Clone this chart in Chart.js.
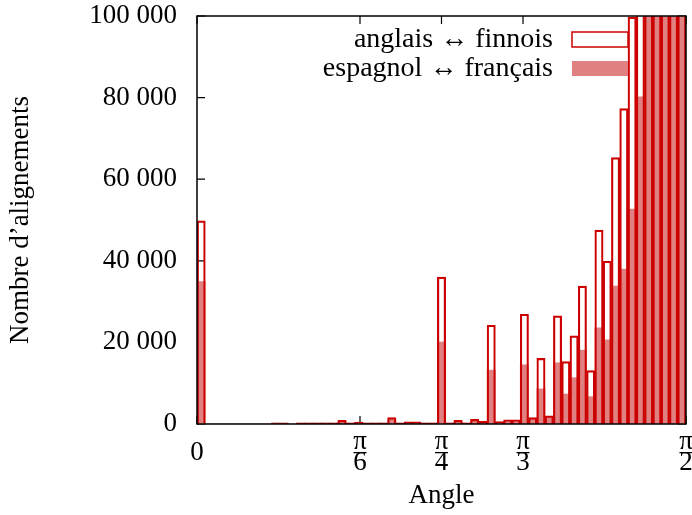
<!DOCTYPE html>
<html>
<head>
<meta charset="utf-8">
<script src="https://cdn.jsdelivr.net/npm/chart.js@4.4.1/dist/chart.umd.min.js"></script>
<style>
  html, body { margin: 0; padding: 0; background: #fff; }
</style>
</head>
<body>
<canvas id="chart" width="692" height="515"></canvas>
<script>
// histogram counts, one value per angle bin (0 .. pi/2)
var anglaisFinnois = [
  49800, 0, 0, 0, 0, 0, 0, 0, 0, 100,
  100, 0, 300, 300, 300, 300, 300, 900, 300, 500,
  300, 300, 300, 1550, 300, 550, 550, 300, 300, 36000,
  300, 900, 300, 1150, 650, 24200, 600, 1050, 1050, 26900,
  1550, 16100, 2000, 26500, 15300, 21600, 33800, 13100, 47500, 39900,
  65300, 77300, 99700, 125000, 150000, 170000, 190000, 210000, 230000
];
var espagnolFrancais = [
  34900, 0, 0, 0, 0, 0, 0, 0, 0, 300,
  300, 0, 200, 200, 200, 200, 200, 700, 200, 300,
  200, 200, 200, 1200, 200, 400, 400, 200, 200, 20100,
  200, 600, 200, 900, 500, 13200, 400, 800, 800, 14500,
  1300, 8600, 1600, 15000, 7350, 11350, 18100, 6700, 23600, 20600,
  33800, 38000, 52700, 80200, 110000, 125000, 140000, 155000, 170000
];
var seriesLabels = ['anglais \u2194 finnois', 'espagnol \u2194 fran\u00e7ais'];

var xTickValues = [0, Math.PI / 6, Math.PI / 4, Math.PI / 3, Math.PI / 2];
var xTickLabels = ['0', ['\u03c0', '6'], ['\u03c0', '4'], ['\u03c0', '3'], ['\u03c0', '2']];
var yTickValues = [0, 20000, 40000, 60000, 80000, 100000];

var binWidth = Math.PI / 2 / anglaisFinnois.length;
var binCenters = anglaisFinnois.map(function (v, i) { return (i + 0.5) * binWidth; });

var RED = '#cc0000';
var PINK = '#e08080';
var FONT = 'Liberation Serif';
var FONT_SIZE = 27;
var X_LINE = 0.78;
var X_PAD = 18;

function points(values) {
  return values.map(function (v, i) { return {x: binCenters[i], y: v}; });
}

function spaced(v) {
  return String(v).replace(/\B(?=(\d{3})+(?!\d))/g, ' ');
}

var framePlugin = {
  id: 'frame',
  beforeDatasetsDraw: function (chart) {
    var a = chart.chartArea, ctx = chart.ctx;
    var xs = chart.scales.x, ys = chart.scales.y;
    ctx.save();
    ctx.strokeStyle = '#000';
    ctx.lineWidth = 1.2;
    ctx.beginPath();
    xTickValues.forEach(function (v) {
      var px = xs.getPixelForValue(v);
      ctx.moveTo(px, a.bottom); ctx.lineTo(px, a.bottom - 8);
      ctx.moveTo(px, a.top); ctx.lineTo(px, a.top + 8);
    });
    yTickValues.forEach(function (v) {
      var py = ys.getPixelForValue(v);
      ctx.moveTo(a.left, py); ctx.lineTo(a.left + 8, py);
      ctx.moveTo(a.right, py); ctx.lineTo(a.right - 8, py);
    });
    ctx.stroke();
    ctx.restore();
  },
  afterDatasetsDraw: function (chart) {
    var a = chart.chartArea, ctx = chart.ctx;
    ctx.save();
    ctx.strokeStyle = '#000';
    ctx.lineWidth = 1.5;
    ctx.strokeRect(a.left, a.top, a.right - a.left, a.bottom - a.top);

    // legend, text on the left of the sample
    ctx.font = '28px "' + FONT + '"';
    ctx.fillStyle = '#000';
    ctx.textAlign = 'right';
    ctx.textBaseline = 'middle';
    var rows = [39.5, 68.5];
    ctx.fillText(seriesLabels[0], 553, rows[0]);
    ctx.fillText(seriesLabels[1], 553, rows[1]);
    ctx.fillStyle = '#fff';
    ctx.fillRect(572, rows[0] - 7.5, 56, 15);
    ctx.strokeStyle = RED;
    ctx.lineWidth = 1.5;
    ctx.strokeRect(572, rows[0] - 7.5, 56, 15);
    ctx.fillStyle = PINK;
    ctx.fillRect(572, rows[1] - 7.5, 56, 15);
    ctx.restore();
  },
  afterDraw: function (chart) {
    // fraction bars of the x tick labels
    var ctx = chart.ctx, xs = chart.scales.x;
    var mid = xs.top + X_PAD + FONT_SIZE * X_LINE / 2;
    ctx.save();
    ctx.strokeStyle = '#000';
    ctx.lineWidth = 1.3;
    ctx.beginPath();
    xTickLabels.forEach(function (lab, i) {
      if (!Array.isArray(lab)) return;
      var px = xs.getPixelForValue(xTickValues[i]);
      ctx.moveTo(px - 6.5, mid); ctx.lineTo(px + 6.5, mid);
    });
    ctx.stroke();
    ctx.restore();
  }
};

new Chart(document.getElementById('chart'), {
  type: 'bar',
  data: {
    datasets: [{
      label: seriesLabels[0],
      data: points(anglaisFinnois),
      backgroundColor: 'rgba(0,0,0,0)',
      borderColor: RED,
      borderWidth: 1.5,
      grouped: false,
      barPercentage: 1,
      categoryPercentage: 1
    }, {
      label: seriesLabels[1],
      data: points(espagnolFrancais),
      backgroundColor: PINK,
      borderWidth: 0,
      grouped: false,
      barPercentage: 1,
      categoryPercentage: 1
    }]
  },
  options: {
    responsive: false,
    animation: false,
    devicePixelRatio: 1,
    layout: {padding: {top: 16, right: 6, left: 0, bottom: 0}},
    plugins: {legend: {display: false}, tooltip: {enabled: false}},
    scales: {
      x: {
        type: 'linear',
        offset: false,
        min: 0,
        max: Math.PI / 2,
        grid: {display: false, drawTicks: false},
        border: {display: false},
        afterBuildTicks: function (scale) {
          scale.ticks = xTickValues.map(function (v) { return {value: v}; });
        },
        afterFit: function (scale) {
          scale.height = 91;
          scale.paddingLeft = 0;
          scale.paddingRight = 0;
        },
        ticks: {
          autoSkip: false,
          maxRotation: 0,
          crossAlign: 'center',
          padding: X_PAD,
          color: '#000',
          font: {family: FONT, size: FONT_SIZE, lineHeight: X_LINE},
          callback: function (v, i) { return xTickLabels[i]; }
        },
        title: {
          display: true,
          text: 'Angle',
          color: '#000',
          padding: {top: 0, bottom: 3},
          font: {family: FONT, size: FONT_SIZE}
        }
      },
      y: {
        min: 0,
        max: 100000,
        grid: {display: false, drawTicks: false},
        border: {display: false},
        afterBuildTicks: function (scale) {
          scale.ticks = yTickValues.map(function (v) { return {value: v}; });
        },
        afterFit: function (scale) {
          scale.width = 197;
          scale.paddingTop = 0;
          scale.paddingBottom = 0;
        },
        ticks: {
          padding: 20,
          color: '#000',
          font: {family: FONT, size: FONT_SIZE},
          callback: function (v) { return spaced(v); }
        },
        title: {
          display: true,
          text: 'Nombre d\u2019alignements',
          color: '#000',
          padding: {top: 5, bottom: 0},
          font: {family: FONT, size: FONT_SIZE}
        }
      }
    }
  },
  plugins: [framePlugin]
});
</script>
</body>
</html>
